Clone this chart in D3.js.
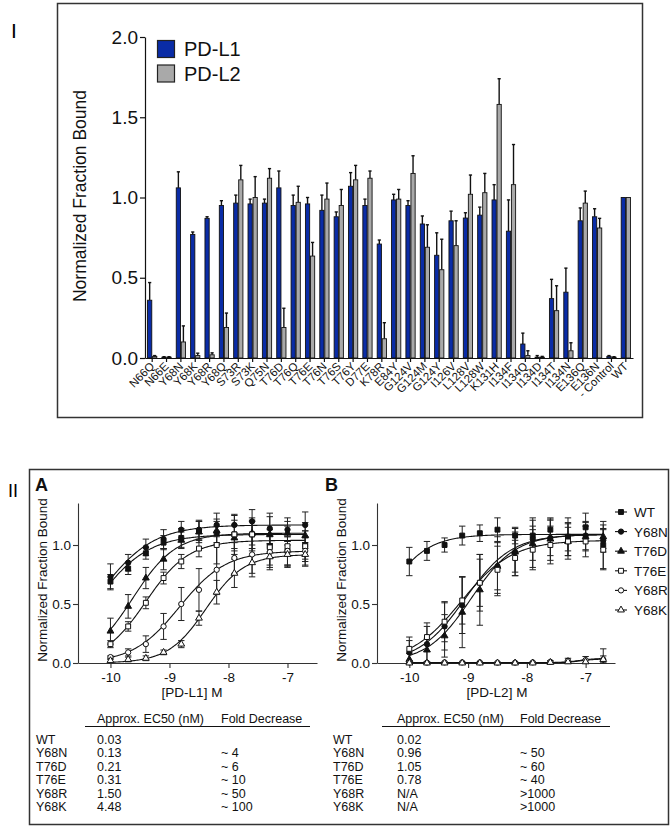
<!DOCTYPE html>
<html>
<head>
<meta charset="utf-8">
<script src="https://cdn.jsdelivr.net/npm/d3@7"></script>
<style>
  body { margin: 0; background: #fff; }
  svg { font-family: "Liberation Sans", Arial, sans-serif; }
</style>
</head>
<body>
<svg id="fig" width="672" height="828"></svg>
<script>
// ---- panel I data ----
var mutants = ['N66Q', 'N66E', 'Y68N', 'Y68K', 'Y68R', 'Y68Q', 'S73R', 'S73K', 'Q75N', 'T76D',
    'T76Q', 'T76E', 'T76N', 'T76S', 'T76Y', 'D77E', 'K78R', 'E84Y', 'G124V', 'G124M',
    'G124Y', 'I126V', 'L128V', 'L128W', 'K131H', 'I134F', 'I134Q', 'I134D', 'I134T', 'I134N',
    'E136Q', 'E136N', '- Control', 'WT'];
var pdl1Bound = [0.36, 0.005, 1.06, 0.77, 0.87, 0.95, 0.965, 0.96, 0.965, 1.06,
    0.95, 0.96, 0.92, 0.88, 1.07, 0.95, 0.71, 0.985, 0.95, 0.835,
    0.64, 0.855, 0.872, 0.89, 0.985, 0.79, 0.087, 0.005, 0.37, 0.41,
    0.855, 0.88, 0.01, 1.0];
var pdl1Err = [0.11, 0.003, 0.10, 0.015, 0.01, 0.03, 0.05, 0.03, 0.025, 0.105,
    0.065, 0.04, 0.095, 0.03, 0.085, 0.04, 0.025, 0.035, 0.03, 0.05,
    0.14, 0.06, 0.033, 0.05, 0.095, 0.195, 0.068, 0.01, 0.12, 0.15,
    0.08, 0.05, 0.005, 0];
var pdl2Bound = [0.01, 0.005, 0.10, 0.015, 0.02, 0.19, 1.11, 1.00, 1.12, 0.19,
    0.97, 0.635, 0.99, 0.95, 1.11, 1.12, 0.12, 0.99, 1.15, 0.69,
    0.55, 0.70, 1.02, 1.03, 1.58, 1.08, 0.015, 0.005, 0.295, 0.045,
    0.965, 0.81, 0.005, 1.0];
var pdl2Err = [0.005, 0.003, 0.10, 0.015, 0.012, 0.09, 0.09, 0.13, 0.06, 0.12,
    0.10, 0.085, 0.10, 0.10, 0.09, 0.045, 0.10, 0.06, 0.11, 0.14,
    0.19, 0.155, 0.12, 0.12, 0.16, 0.25, 0.03, 0.005, 0.155, 0.05,
    0.075, 0.06, 0.003, 0];
var barTicks = [0, 0.5, 1.0, 1.5, 2.0];
var ligands = ['PD-L1', 'PD-L2'];

// ---- panel II data ----
var logConc = [-10, -9.7, -9.4, -9.1, -8.8, -8.5, -8.2, -7.9, -7.6, -7.3, -7.0, -6.7];
var variants = ['WT', 'Y68N', 'T76D', 'T76E', 'Y68R', 'Y68K'];
var curveTicksX = [-10, -9, -8, -7];
var curveTicksY = [0, 0.5, 1.0];

var meansA = [
    [0.69, 0.80, 0.93, 1.02, 1.06, 1.12, 1.10, 1.09, 1.09, 0.99, 0.95, 1.00],
    [0.73, 0.85, 0.98, 1.05, 1.13, 1.13, 1.17, 1.17, 1.20, 1.14, 1.13, 1.17],
    [0.27, 0.48, 0.72, 0.88, 1.04, 1.11, 1.12, 1.06, 1.10, 1.09, 1.10, 1.08],
    [0.16, 0.31, 0.51, 0.72, 0.86, 0.97, 1.00, 1.09, 1.09, 0.98, 0.99, 0.99],
    [0.05, 0.09, 0.16, 0.31, 0.50, 0.62, 0.79, 0.89, 0.92, 0.94, 0.95, 0.95],
    [0.02, 0.03, 0.04, 0.09, 0.16, 0.38, 0.60, 0.76, 0.85, 0.90, 0.92, 0.92]
];
var errA = [
    [0.06, 0.05, 0.05, 0.06, 0.08, 0.08, 0.10, 0.12, 0.12, 0.10, 0.12, 0.12],
    [0.11, 0.07, 0.07, 0.08, 0.07, 0.08, 0.10, 0.08, 0.10, 0.13, 0.10, 0.11],
    [0.11, 0.10, 0.09, 0.09, 0.07, 0.09, 0.10, 0.11, 0.10, 0.15, 0.10, 0.11],
    [0.03, 0.04, 0.05, 0.05, 0.06, 0.07, 0.16, 0.17, 0.14, 0.15, 0.17, 0.13],
    [0.01, 0.03, 0.07, 0.11, 0.14, 0.18, 0.21, 0.13, 0.16, 0.13, 0.12, 0.12],
    [0.01, 0.02, 0.02, 0.02, 0.03, 0.06, 0.10, 0.12, 0.12, 0.11, 0.11, 0.10]
];
// fitted curves: bottom, top, logEC50, hill
var fitA = [
    [0, 1.09, -10.22, 1.0],
    [0, 1.17, -10.2, 0.95],
    [0, 1.10, -9.62, 1.2],
    [0, 1.04, -9.4, 1.2],
    [0, 0.95, -8.83, 1.1],
    [0, 0.92, -8.38, 1.35]
];

var meansB = [
    [0.86, 0.95, 1.00, 1.08, 1.10, 1.13, 1.08, 1.08, 1.13, 1.07, 1.15, 1.00],
    [0.09, 0.16, 0.31, 0.49, 0.68, 0.82, 0.94, 1.05, 1.06, 1.07, 1.08, 1.04],
    [0.03, 0.11, 0.23, 0.43, 0.62, 0.82, 0.94, 1.01, 1.05, 1.03, 1.07, 1.07],
    [0.12, 0.22, 0.35, 0.53, 0.68, 0.79, 0.89, 0.96, 1.00, 1.03, 1.03, 0.96],
    [0.005, 0.003, 0.005, 0.005, 0.005, 0.003, 0.003, 0.005, 0.01, 0.02, 0.025, 0.03],
    [0, 0, 0, 0, 0, 0, 0, 0, 0.005, 0.01, 0.01, 0.03]
];
var errB = [
    [0.12, 0.08, 0.06, 0.08, 0.07, 0.10, 0.07, 0.08, 0.09, 0.16, 0.12, 0.20],
    [0.10, 0.15, 0.20, 0.24, 0.20, 0.20, 0.17, 0.18, 0.15, 0.12, 0.12, 0.10],
    [0.05, 0.10, 0.18, 0.30, 0.30, 0.25, 0.20, 0.20, 0.18, 0.15, 0.12, 0.10],
    [0.10, 0.12, 0.17, 0.20, 0.24, 0.20, 0.15, 0.17, 0.16, 0.12, 0.13, 0.17],
    [0.005, 0.005, 0.005, 0.005, 0.005, 0.005, 0.005, 0.005, 0.01, 0.02, 0.03, 0.09],
    [0.005, 0.005, 0.005, 0.005, 0.005, 0.005, 0.005, 0.005, 0.01, 0.01, 0.02, 0.03]
];
var fitB = [
    [0, 1.09, -10.45, 1.2],
    [0, 1.09, -9.05, 1.1],
    [0, 1.09, -8.95, 1.15],
    [0, 1.04, -9.12, 1.0],
    [0.003, 0.04, -7.1, 3],
    [0, 0.035, -7.1, 3]
];

var ec50A = ['0.03', '0.13', '0.21', '0.31', '1.50', '4.48'];
var foldA = ['', '~ 4', '~ 6', '~ 10', '~ 50', '~ 100'];
var ec50B = ['0.02', '0.96', '1.05', '0.78', 'N/A', 'N/A'];
var foldB = ['', '~ 50', '~ 60', '~ 40', '>1000', '>1000'];

var svg = d3.select('#fig');
var ink = '#111';

// ================= PANEL I =================
svg.append('rect').attr('x', 57.5).attr('y', 3.5).attr('width', 585).attr('height', 414)
    .attr('fill', 'none').attr('stroke', '#333').attr('stroke-width', 1.5);
svg.append('text').attr('x', 11).attr('y', 38).attr('font-size', 21).text('I');

var xBar = d3.scaleBand().domain(mutants).range([145, 633]).paddingInner(0.3).paddingOuter(0.15);
var xSub = d3.scaleBand().domain(ligands).range([0, xBar.bandwidth()]);
var yBar = d3.scaleLinear().domain([0, 2]).range([358, 37]);
var barColors = d3.scaleOrdinal().domain(ligands).range(['#0a2ca6', '#a9a9a9']);

var barRows = [];
mutants.forEach(function(m, i) {
    barRows.push({m: m, k: 'PD-L1', v: pdl1Bound[i], e: pdl1Err[i]});
    barRows.push({m: m, k: 'PD-L2', v: pdl2Bound[i], e: pdl2Err[i]});
});

var gBars = svg.append('g');
var bx = function(d) { return xBar(d.m) + xSub(d.k); };
var bcx = function(d) { return bx(d) + xSub.bandwidth() / 2; };

gBars.selectAll('line.err').data(barRows.filter(function(d) { return d.e > 0; }))
    .enter().append('line')
    .attr('x1', bcx).attr('x2', bcx)
    .attr('y1', function(d) { return yBar(d.v); })
    .attr('y2', function(d) { return yBar(d.v + d.e); })
    .attr('stroke', ink).attr('stroke-width', 1.4);
gBars.selectAll('line.cap').data(barRows.filter(function(d) { return d.e > 0; }))
    .enter().append('line')
    .attr('x1', function(d) { return bcx(d) - 1.6; })
    .attr('x2', function(d) { return bcx(d) + 1.6; })
    .attr('y1', function(d) { return yBar(d.v + d.e); })
    .attr('y2', function(d) { return yBar(d.v + d.e); })
    .attr('stroke', ink).attr('stroke-width', 1.4);
gBars.selectAll('rect.bar').data(barRows).enter().append('rect')
    .attr('x', function(d) { return bx(d) + 0.4; })
    .attr('width', xSub.bandwidth() - 0.8)
    .attr('y', function(d) { return yBar(d.v); })
    .attr('height', function(d) { return yBar(0) - yBar(d.v); })
    .attr('fill', function(d) { return barColors(d.k); })
    .attr('stroke', ink).attr('stroke-width', 0.9);

var yBarAxis = svg.append('g').attr('transform', 'translate(145,0)')
    .call(d3.axisLeft(yBar).tickValues(barTicks).tickFormat(d3.format('.1f')).tickSize(5).tickSizeOuter(0).tickPadding(2));
yBarAxis.selectAll('text').attr('font-size', 19).attr('font-family', null).attr('fill', ink);
yBarAxis.selectAll('line, path').attr('stroke', ink).attr('stroke-width', 1.2);

var xBarAxis = svg.append('g').attr('transform', 'translate(0,358)')
    .call(d3.axisBottom(xBar).tickSize(4).tickSizeOuter(0));
xBarAxis.selectAll('line, path').attr('stroke', ink).attr('stroke-width', 1.2);
xBarAxis.selectAll('text')
    .attr('font-size', 11.5).attr('font-family', null).attr('fill', ink)
    .attr('text-anchor', 'end').attr('dy', null).attr('y', 0)
    .attr('transform', 'translate(3,9) rotate(-45)');

svg.append('text').attr('transform', 'translate(86,196) rotate(-90)')
    .attr('text-anchor', 'middle').attr('font-size', 17.5).attr('fill', ink)
    .text('Normalized Fraction Bound');

var gLeg = svg.append('g');
ligands.forEach(function(l, i) {
    gLeg.append('rect').attr('x', 157.5).attr('y', 40.5 + i * 24.5).attr('width', 17).attr('height', 17)
        .attr('fill', barColors(l)).attr('stroke', '#222').attr('stroke-width', 1.2);
    gLeg.append('text').attr('x', 184).attr('y', 56 + i * 24.5).attr('font-size', 20).attr('fill', ink).text(l);
});

// ================= PANEL II =================
svg.append('rect').attr('x', 29.5).attr('y', 469.5).attr('width', 639).attr('height', 355)
    .attr('fill', 'none').attr('stroke', '#333').attr('stroke-width', 1.5);
svg.append('text').attr('x', 8).attr('y', 497).attr('font-size', 18).text('II');

var shapes = [d3.symbolSquare, d3.symbolCircle, d3.symbolTriangle, d3.symbolSquare, d3.symbolCircle, d3.symbolTriangle];
var sizes = [24, 22, 20, 24, 22, 20];
var filled = [true, true, true, false, false, false];

function drawCurvePanel(opts) {
    var x = d3.scaleLinear().domain([-10.55, -6.5]).range([opts.x0, opts.x1]);
    var y = d3.scaleLinear().domain([0, 1.356]).range([663, 503]);
    var g = svg.append('g');

    g.append('text').attr('x', opts.labelX).attr('y', 491).attr('font-size', 18).attr('font-weight', 'bold')
        .attr('fill', ink).text(opts.label);

    var ya = g.append('g').attr('transform', 'translate(' + opts.x0 + ',0)')
        .call(d3.axisLeft(y).tickValues(curveTicksY).tickFormat(d3.format('.1f')).tickSize(5).tickSizeOuter(0).tickPadding(2));
    var xa = g.append('g').attr('transform', 'translate(0,663)')
        .call(d3.axisBottom(x).tickValues(curveTicksX).tickFormat(function(d) { return String(d); }).tickSize(5).tickSizeOuter(0).tickPadding(4));
    [ya, xa].forEach(function(a) {
        a.selectAll('text').attr('font-size', 13.5).attr('font-family', null).attr('fill', ink);
        a.selectAll('line, path').attr('stroke', '#333').attr('stroke-width', 1.1);
    });

    g.append('text').attr('transform', 'translate(' + (opts.x0 - 31) + ',580) rotate(-90)')
        .attr('text-anchor', 'middle').attr('font-size', 13.5).attr('fill', ink)
        .text('Normalized Fraction Bound');
    g.append('text').attr('x', opts.xLabelX).attr('y', 697).attr('text-anchor', 'middle')
        .attr('font-size', 13.5).attr('fill', ink).text(opts.xLabel);

    var fine = d3.range(-10, -6.69, 0.02);
    var line = d3.line().x(function(d) { return x(d[0]); }).y(function(d) { return y(d[1]); });

    variants.forEach(function(v, s) {
        var p = opts.fit[s];
        var pts = fine.map(function(c) {
            return [c, p[0] + (p[1] - p[0]) / (1 + Math.pow(10, (p[2] - c) * p[3]))];
        });
        g.append('path').attr('d', line(pts)).attr('fill', 'none').attr('stroke', ink).attr('stroke-width', 1.1);
    });

    variants.forEach(function(v, s) {
        var pts = logConc.map(function(c, i) { return {c: c, m: opts.means[s][i], e: opts.err[s][i]}; });
        var eg = g.append('g').attr('stroke', '#222').attr('stroke-width', 1.0);
        pts.forEach(function(d) {
            var cx = x(d.c), lo = y(Math.max(0, d.m - d.e)), hi = y(d.m + d.e);
            eg.append('line').attr('x1', cx).attr('x2', cx).attr('y1', lo).attr('y2', hi);
            eg.append('line').attr('x1', cx - 3.2).attr('x2', cx + 3.2).attr('y1', hi).attr('y2', hi);
            eg.append('line').attr('x1', cx - 3.2).attr('x2', cx + 3.2).attr('y1', lo).attr('y2', lo);
        });
    });

    variants.forEach(function(v, s) {
        var sym = d3.symbol().type(shapes[s]).size(sizes[s]);
        g.selectAll('path.pt' + s).data(logConc).enter().append('path')
            .attr('d', sym)
            .attr('transform', function(c, i) { return 'translate(' + x(c) + ',' + y(opts.means[s][i]) + ')'; })
            .attr('fill', filled[s] ? ink : '#fff')
            .attr('stroke', ink).attr('stroke-width', 1.0);
    });
}

drawCurvePanel({x0: 78, x1: 317, label: 'A', labelX: 35, xLabel: '[PD-L1] M', xLabelX: 192,
    means: meansA, err: errA, fit: fitA});
drawCurvePanel({x0: 377, x1: 615, label: 'B', labelX: 325, xLabel: '[PD-L2] M', xLabelX: 497,
    means: meansB, err: errB, fit: fitB});

// legend for panel B
var legB = svg.append('g');
variants.forEach(function(v, s) {
    var ly = 512 + s * 19.6;
    legB.append('line').attr('x1', 615).attr('x2', 627).attr('y1', ly).attr('y2', ly)
        .attr('stroke', ink).attr('stroke-width', 1.1);
    legB.append('path').attr('d', d3.symbol().type(shapes[s]).size(sizes[s]))
        .attr('transform', 'translate(621,' + ly + ')')
        .attr('fill', filled[s] ? ink : '#fff').attr('stroke', ink).attr('stroke-width', 1.0);
    legB.append('text').attr('x', 634).attr('y', ly + 5).attr('font-size', 13.5).attr('fill', ink).text(v);
});

// tables
function drawTable(opts) {
    var g = svg.append('g').attr('font-size', 12.5).attr('fill', ink);
    g.append('text').attr('x', opts.cEc).attr('y', 723).text('Approx. EC50 (nM)');
    g.append('text').attr('x', opts.cFold).attr('y', 723).text('Fold Decrease');
    g.append('line').attr('x1', opts.u0).attr('x2', opts.u1).attr('y1', 726.5).attr('y2', 726.5)
        .attr('stroke', ink).attr('stroke-width', 1);
    variants.forEach(function(v, i) {
        var ty = 744 + i * 13.4;
        g.append('text').attr('x', opts.cName).attr('y', ty).text(v);
        g.append('text').attr('x', opts.cEc).attr('y', ty).text(opts.ec[i]);
        g.append('text').attr('x', opts.cFold).attr('y', ty).text(opts.fold[i]);
    });
}
drawTable({cName: 36, cEc: 97, cFold: 221, u0: 85, u1: 310, ec: ec50A, fold: foldA});
drawTable({cName: 333, cEc: 397, cFold: 520, u0: 382, u1: 610, ec: ec50B, fold: foldB});
</script>
</body>
</html>
